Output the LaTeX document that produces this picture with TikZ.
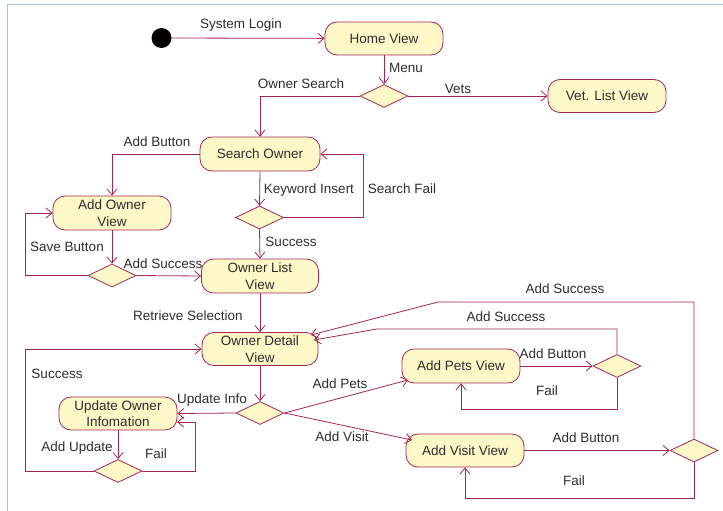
\documentclass[tikz,border=0pt]{standalone}
\usepackage{fontspec}
\setmainfont{Liberation Sans}
\usetikzlibrary{arrows.meta,shapes.geometric,calc}
\definecolor{lc}{RGB}{165,38,82}
\definecolor{fc}{RGB}{253,248,200}
\definecolor{tc}{RGB}{45,45,45}
\definecolor{frame}{RGB}{165,195,235}
\begin{document}
\begin{tikzpicture}[x=1pt,y=-1pt,
  every node/.style={font=\fontsize{13.5}{16.5}\selectfont, text=tc},
  state/.style={rectangle, rounded corners=12pt, draw=lc, line width=0.8pt, fill=fc,
    minimum width=118pt, minimum height=33pt, align=center, inner sep=1pt},
  dec/.style={diamond, draw=lc, line width=0.8pt, fill=fc, minimum width=48pt,
    minimum height=23pt, inner sep=0pt},
  flow/.style={draw=lc, line width=0.8pt, -{Straight Barb[length=6pt,width=10pt]}},
  lbl/.style={inner sep=0pt}]
\useasboundingbox (0,0) rectangle (723,511);
\draw[frame, line width=1pt] (7.5,511) -- (7.5,5) -- (723,5);

% nodes
\node[circle, fill=black, minimum size=20pt, inner sep=0pt] (start) at (161.5,38) {};
\node[state] (home) at (384,38.5) {Home View};
\node[dec] (d1) at (384,96) {};
\node[state] (vet) at (607,96) {Vet. List View};
\node[state, minimum width=120pt, minimum height=34pt] (search) at (260,154) {Search Owner};
\node[state, minimum height=34pt] (addowner) at (112,213) {Add Owner\\View};
\node[dec] (d2) at (259.5,217.5) {};
\node[state, minimum width=117pt, minimum height=34pt] (olist) at (260,276) {Owner List\\View};
\node[dec] (d3) at (112,275.5) {};
\node[state, minimum width=116pt] (detail) at (260,349) {Owner Detail\\View};
\node[dec] (d4) at (260,413) {};
\node[state] (update) at (118,413.5) {Update Owner\\Infomation};
\node[dec] (d5) at (118,471) {};
\node[state, minimum height=34pt] (pets) at (461,366) {Add Pets View};
\node[state] (visit) at (465,450.5) {Add Visit View};
\node[dec] (d6) at (617,366) {};
\node[dec] (d7) at (694,450.5) {};

% helper coordinates
\coordinate (sfc) at (363,217.5);
\coordinate (sbc) at (25,275.5);
\coordinate (fuc) at (195,471);
\coordinate (fue) at (177,422);
\coordinate (suc) at (25,471);
\coordinate (pin) at (408,380);
\coordinate (vin) at (412,440);
\coordinate (pfc) at (617,409);
\coordinate (vfc) at (694,498);
\coordinate (ps1) at (617,329);
\coordinate (ps2) at (377,329);
\coordinate (pse) at (314,340);
\coordinate (vs1) at (694,302);
\coordinate (vs2) at (438,302);
\coordinate (vse) at (311,335);

% connectors
\draw[flow] (start) -- (home);
\draw[flow] (home) -- (d1);
\draw[flow] (d1.east) -- (vet.west);
\draw[flow] (d1.west) -| (search.north);
\draw[flow] (search.west) -| (addowner.north);
\draw[flow] (search.south) -- (d2.north);
\draw[flow] (d2.east) -- (sfc) |- (search.east);
\draw[flow] (d2.south) -- (olist.north);
\draw[flow] (addowner.south) -- (d3.north);
\draw[flow] (d3.west) -- (sbc) |- (addowner.west);
\draw[flow] (d3.east) -- (olist.west);
\draw[flow] (olist.south) -- (detail.north);
\draw[flow] (detail.south) -- (d4.north);
\draw[flow] (d4.west) -- (update.east);
\draw[flow] (update.south) -- (d5.north);
\draw[flow] (d5.east) -- (fuc) |- (fue);
\draw[flow] (d5.west) -- (suc) |- (detail.west);
\draw[flow] (d4.east) -- (pin);
\draw[flow] (d4.east) -- (vin);
\draw[flow] (pets.east) -- (d6.west);
\draw[flow] (d6.south) -- (pfc) -| (pets.south);
\draw[flow] (d6.north) -- (ps1) -- (ps2) -- (pse);
\draw[flow] (visit.east) -- (d7.west);
\draw[flow] (d7.south) -- (vfc) -| (visit.south);
\draw[flow] (d7.north) -- (vs1) -- (vs2) -- (vse);

% labels
\node[lbl] (l1) at (241,25) {System Login};
\node[lbl] (l2) at (406,68) {Menu};
\node[lbl] (l3) at (458,89) {Vets};
\node[lbl] (l4) at (301,84) {Owner Search};
\node[lbl] (l5) at (157,142) {Add Button};
\node[lbl] (l6) at (309,190) {Keyword Insert};
\node[lbl] (l7) at (402,189) {Search Fail};
\node[lbl] (l8) at (291,242) {Success};
\node[lbl] (l9) at (67,247) {Save Button};
\node[lbl] (l10) at (163,264) {Add Success};
\node[lbl] (l11) at (188,316) {Retrieve Selection};
\node[lbl] (l12) at (565,289) {Add Success};
\node[lbl] (l13) at (506,317) {Add Success};
\node[lbl] (l14) at (57,374) {Success};
\node[lbl] (l15) at (212,400) {Update Info};
\node[lbl] (l16) at (340,384) {Add Pets};
\node[lbl] (l17) at (342,437) {Add Visit};
\node[lbl] (l18) at (553,354) {Add Button};
\node[lbl] (l19) at (547,391) {Fail};
\node[lbl] (l20) at (586,438) {Add Button};
\node[lbl] (l21) at (574,481) {Fail};
\node[lbl] (l22) at (77,448) {Add Update};
\node[lbl] (l23) at (156,454) {Fail};
\end{tikzpicture}
\end{document}
